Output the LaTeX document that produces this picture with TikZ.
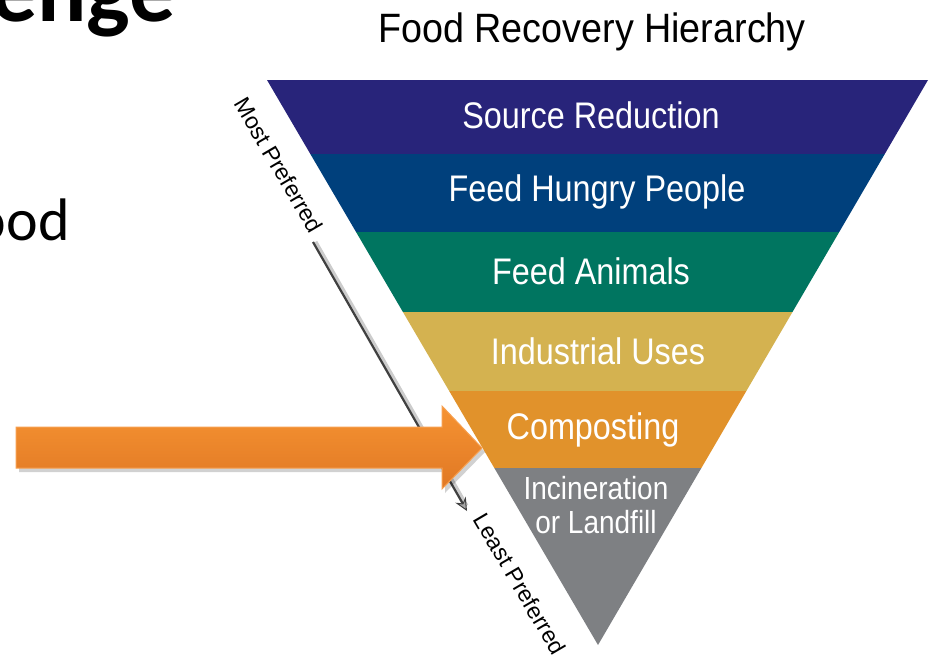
\documentclass[tikz,border=0pt]{standalone}
\usepackage{fontspec}
\setmainfont{Liberation Sans}
\newfontfamily\cond[FakeStretch=0.875]{Liberation Sans}
\newfontfamily\condt[FakeStretch=0.92]{Liberation Sans}
\newfontfamily\slidefont{Carlito}
\usetikzlibrary{arrows.meta}
\definecolor{bandA}{RGB}{40,36,122}
\definecolor{bandB}{RGB}{0,64,124}
\definecolor{bandC}{RGB}{0,117,96}
\definecolor{bandD}{RGB}{212,178,80}
\definecolor{bandE}{RGB}{225,146,43}
\definecolor{bandF}{RGB}{126,128,131}
\definecolor{arrTop}{RGB}{246,147,50}
\definecolor{arrBot}{RGB}{224,120,36}
\definecolor{arrEdge}{RGB}{247,160,80}
\begin{document}
\begin{tikzpicture}[x=1pt,y=-1pt,
  bandlabel/.style={text=white,inner sep=0pt,anchor=base,font=\cond\fontsize{37}{37}\selectfont},
  smalllabel/.style={text=white,inner sep=0pt,anchor=base,font=\cond\fontsize{32}{32}\selectfont},
  sidelabel/.style={inner sep=0pt,rotate=-59.6,font=\fontsize{23}{23}\selectfont}]
\clip (0,0) rectangle (934,657);
\fill[white] (0,0) rectangle (934,657);
% slide text fragments
\node[anchor=base east,inner sep=0pt,font=\slidefont\bfseries\fontsize{92}{92}\selectfont] (ttl) at (176,21) {enge};
\node[anchor=base east,inner sep=0pt,font=\slidefont\fontsize{60}{60}\selectfont] (body) at (70,240) {ood};
% title
\node[anchor=base,inner sep=0pt,font=\condt\fontsize{41}{41}\selectfont] (title) at (592,42) {Food Recovery Hierarchy};
% pyramid bands
\begin{scope}
\clip (267,80) -- (928,80) -- (598,645) -- cycle;
\fill[bandA] (250,80) rectangle (940,154);
\fill[bandB] (250,154) rectangle (940,232);
\fill[bandC] (250,232) rectangle (940,312);
\fill[bandD] (250,312) rectangle (940,391);
\fill[bandE] (250,391) rectangle (940,468);
\fill[bandF] (250,468) rectangle (940,650);
\end{scope}
\node[bandlabel] (l1) at (591,128) {Source Reduction};
\node[bandlabel] (l2) at (597,201) {Feed Hungry People};
\node[bandlabel] (l3) at (591,284) {Feed Animals};
\node[bandlabel] (l4) at (598,364) {Industrial Uses};
\node[bandlabel] (l5) at (593,439) {Composting};
\node[smalllabel] (l6) at (596,499) {Incineration};
\node[smalllabel] (l7) at (596,533) {or Landfill};
% side labels
\node[sidelabel] (most) at (279,165) {Most Preferred};
\node[sidelabel] (least) at (520,584) {Least Preferred};
\coordinate (ms) at (313,242);
\coordinate (me) at (467,511);
\draw[line width=4.5pt,black!20,shorten >=6pt] ([xshift=2.2pt]ms) -- ([xshift=2.2pt]me);
\draw[line width=2.2pt,black!75,-{Stealth[length=13pt,width=12pt,fill=black!35,line width=1pt]}] (ms) -- (me);
% orange arrow
\fill[black,opacity=0.18] (19,431) -- (445,431) -- (445,410) -- (485,452) -- (445,493) -- (445,472) -- (19,472) -- cycle;
\path[top color=arrTop,bottom color=arrBot,draw=arrEdge,line width=1pt]
  (16,427) -- (442,427) -- (442,406) -- (482,448) -- (442,489) -- (442,468) -- (16,468) -- cycle;
\end{tikzpicture}
\end{document}
